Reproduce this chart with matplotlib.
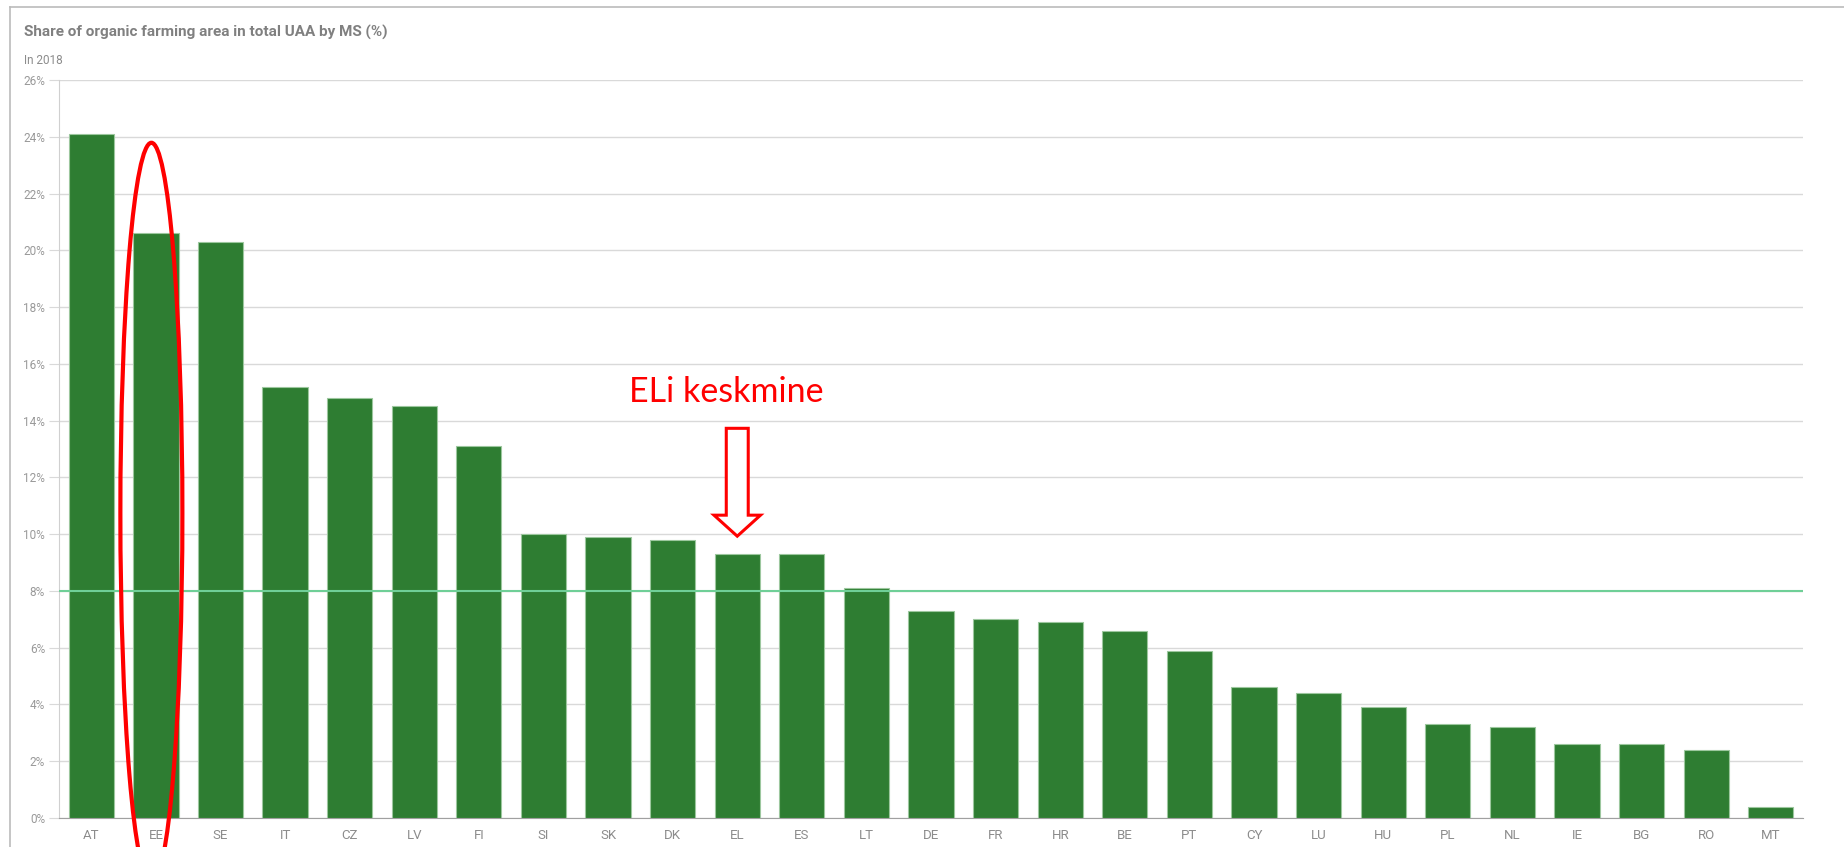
import matplotlib.pyplot as plt
import numpy as np
from matplotlib.patches import Ellipse, Polygon
from matplotlib.lines import Line2D
from matplotlib.ticker import FuncFormatter

# share of organic farming area in total UAA, 2018 (%)
countries = ['AT', 'EE', 'SE', 'IT', 'CZ', 'LV', 'FI', 'SI', 'SK', 'DK', 'EL', 'ES', 'LT', 'DE',
             'FR', 'HR', 'BE', 'PT', 'CY', 'LU', 'HU', 'PL', 'NL', 'IE', 'BG', 'RO', 'MT']
shares = [24.1, 20.6, 20.3, 15.2, 14.8, 14.5, 13.1, 10.0, 9.9, 9.8, 9.3, 9.3, 8.1, 7.3,
          7.0, 6.9, 6.6, 5.9, 4.6, 4.4, 3.9, 3.3, 3.2, 2.6, 2.6, 2.4, 0.4]
eu_mean = 8.0
y_ticks = list(range(0, 27, 2))

plt.rcParams['font.family'] = ['Roboto', 'DejaVu Sans']

fig = plt.figure(figsize=(18.44, 8.47), dpi=100)
ax = fig.add_axes([0.032, 0.0342, 0.9458, 0.8713])

x = np.arange(len(countries))
ax.bar(x, shares, width=0.7, color='#2e7d32', edgecolor='#9cc79e', linewidth=0.8, zorder=3)
ax.axhline(eu_mean, color='#6fcf97', linewidth=1.5, zorder=4)

ax.set_xlim(-0.5, len(countries) - 0.5)
ax.set_ylim(0, 26)
ax.set_yticks(y_ticks)
ax.yaxis.set_major_formatter(FuncFormatter(lambda v, p: '%d%%' % v))
ax.set_xticks(x)
ax.set_xticklabels(countries)
ax.grid(axis='y', color='#d9d9d9', linewidth=1, zorder=0)
ax.tick_params(axis='y', length=7, color='#d9d9d9', labelsize=8.5, labelcolor='#999999', pad=3)
ax.tick_params(axis='x', length=0, labelsize=9.5, labelcolor='#8c8c8c', pad=8)
for s in ['top', 'right']:
    ax.spines[s].set_visible(False)
ax.spines['left'].set_color('#d0d0d0')
ax.spines['bottom'].set_color('#a0a0a0')

# red annotations
ax.add_patch(Ellipse((0.93, 10.74), 0.96, 26.1, fill=False, edgecolor='red', linewidth=3,
                     clip_on=False, zorder=6))
xa = countries.index('EL')
arrow = [(xa - 0.17, 13.73), (xa + 0.17, 13.73), (xa + 0.17, 10.67), (xa + 0.36, 10.67),
         (xa, 9.93), (xa - 0.36, 10.67), (xa - 0.17, 10.67)]
ax.add_patch(Polygon(arrow, closed=True, facecolor='white', edgecolor='red', linewidth=2.2,
                     zorder=6))
ax.text(xa - 0.17, 14.65, 'ELi keskmine', color='red', fontsize=24.5, family=['Lato', 'DejaVu Sans'],
        ha='center', va='baseline', zorder=6)

# titles
fig.text(0.013, 0.962, 'Share of organic farming area in total UAA by MS (%)', fontsize=11,
         fontweight='bold', color='#808080', va='center')
fig.text(0.013, 0.929, 'In 2018', fontsize=8.5, color='#8c8c8c', va='center')

# panel frame
fig.add_artist(Line2D([0.0054, 1.0], [0.9915, 0.9915], color='#bbbbbb', linewidth=1.2))
fig.add_artist(Line2D([0.0054, 0.0054], [0.0, 0.9915], color='#bbbbbb', linewidth=1.2))

fig.savefig('out.png', dpi=100)
